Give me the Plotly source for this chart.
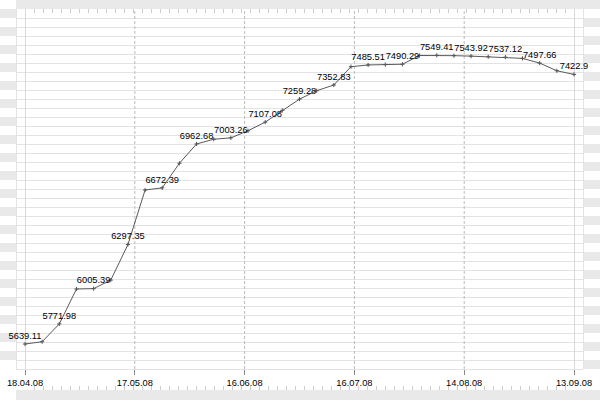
import plotly.graph_objects as go

# ---- data ----
values = [5639.11, 5654, 5771.98, 6003, 6005.39, 6062, 6297.35, 6658, 6672.39,
          6835, 6962.68, 6994, 7003.26, 7050, 7107.08, 7185, 7259.28, 7315,
          7352.83, 7474, 7485.51, 7488, 7490.29, 7548, 7549.41, 7547, 7543.92,
          7540, 7537.12, 7529, 7497.66, 7447, 7422.9]
tick_labels = ["18.04.08", "17.05.08", "16.06.08", "16.07.08", "14.08.08", "13.09.08"]

n = len(values)
xs = list(range(n))
texts = [str(v) if i % 2 == 0 else "" for i, v in enumerate(values)]
last = n - 1
tick_vals = [last * k / (len(tick_labels) - 1) for k in range(len(tick_labels))]

# ---- pixel frame helpers ----
W_, H_ = 600, 400
PL, PR, PT, PB = 25, 574, 9, 369
PW, PH = PR - PL, PB - PT
def px(x):
    return (x - PL) / PW
def py(y):
    return (PB - y) / PH

YMIN, YMAX = 5473.69, 7855.74

GRAY = "#e9e9e9"
GRID = "#e3e3e3"
shapes = []

def rect(x0, y0, x1, y1, color):
    shapes.append(dict(type="rect", xref="paper", yref="paper",
                       x0=px(x0), x1=px(x1), y0=py(y1), y1=py(y0),
                       fillcolor=color, line=dict(width=0), layer="below"))

# bands
rect(16, 0, 600, 9, GRAY)
rect(16, 390, 600, 400, GRAY)
for k in range(20):
    rect(0, 9 + 18 * k, 16, 18 + 18 * k, GRAY)
    rect(583, 18 + 18 * k, 600, 27 + 18 * k, GRAY)

def path_lines(segs, color, width=1, dash=None):
    d = " ".join(f"M{px(a)},{py(b)} L{px(c)},{py(e)}" for a, b, c, e in segs)
    ln = dict(color=color, width=width)
    if dash:
        ln["dash"] = dash
    shapes.append(dict(type="path", xref="paper", yref="paper", path=d,
                       line=ln, layer="below"))

# horizontal grid
path_lines([(16, 18 + 9 * k + 0.5, 583, 18 + 9 * k + 0.5) for k in range(40)], GRID)
# vertical frame lines
path_lines([(x + 0.5, 9, x + 0.5, 369) for x in (16, 583)], GRID)
path_lines([(x + 0.5, 9, x + 0.5, 369) for x in (25, 574)], "#d8d8d8")
# small ticks top / bottom
path_lines([(25 + 9 * k + 0.5, 9, 25 + 9 * k + 0.5, 13) for k in range(1, 61)], "#cccccc")
path_lines([(25 + 9 * k + 0.5, 386, 25 + 9 * k + 0.5, 390) for k in range(1, 61)], "#cccccc")

# dashed vertical gridlines at inner major ticks
for tv in tick_vals[1:-1]:
    shapes.append(dict(type="line", xref="x", yref="paper", x0=tv, x1=tv, y0=0, y1=1,
                       line=dict(color="#bbbbbb", width=1, dash="3px,2px"), layer="below"))

fig = go.Figure()
fig.add_trace(go.Scatter(
    x=xs, y=values, mode="lines+markers+text",
    line=dict(color="#5a5a5a", width=1),
    marker=dict(symbol="cross-thin", size=3, line=dict(color="#555555", width=1), color="#555555"),
    text=texts, textposition="top center",
    textfont=dict(family="Liberation Sans", size=9.3, color="#000000"),
    cliponaxis=False, hoverinfo="x+y", showlegend=False,
))

fig.update_layout(
    width=W_, height=H_,
    margin=dict(l=PL, r=W_ - PR, t=PT, b=H_ - PB, pad=0, autoexpand=False),
    paper_bgcolor="#ffffff", plot_bgcolor="rgba(0,0,0,0)",
    shapes=shapes,
    xaxis=dict(range=[0, last], tickmode="array", tickvals=tick_vals, ticktext=tick_labels,
               showgrid=False, zeroline=False, showline=False, automargin=False,
               ticks="outside", ticklen=5, tickcolor="#888888", tickwidth=1,
               tickfont=dict(family="Liberation Sans", size=9.3, color="#000000"),
               fixedrange=True),
    yaxis=dict(range=[YMIN, YMAX], visible=False, fixedrange=True, automargin=False),
    font=dict(family="Liberation Sans", size=9.3, color="#000000"),
)

fig.write_html("out.html", config={"displayModeBar": False},
               post_script="document.body.style.margin='0';document.body.style.overflow='hidden';")
